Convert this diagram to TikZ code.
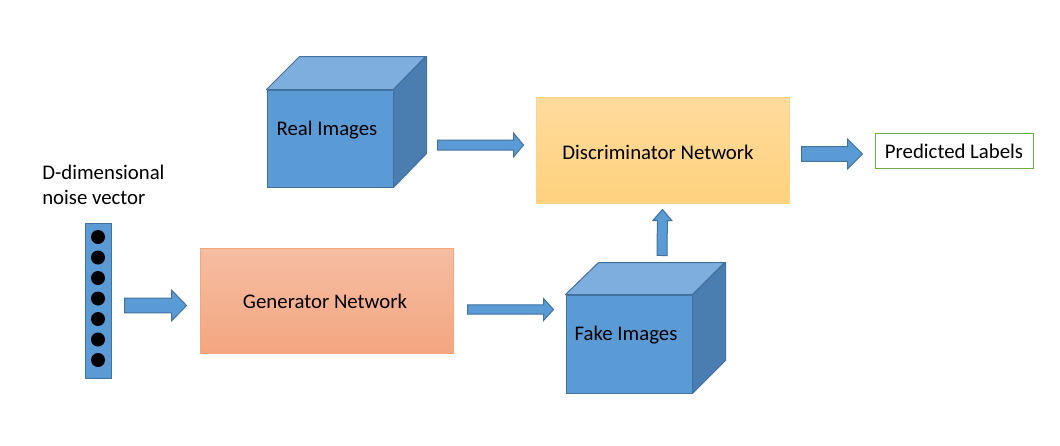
\documentclass[tikz,border=0pt]{standalone}
\usepackage{fontspec}
\setmainfont{Carlito}
\usetikzlibrary{calc,fit}
\definecolor{bfill}{HTML}{5B9BD5}
\definecolor{bline}{HTML}{41719C}
\definecolor{btop}{HTML}{7DAEDD}
\definecolor{bside}{HTML}{4A7EB1}
\definecolor{dtop}{HTML}{FFDB9C}
\definecolor{dbot}{HTML}{FED17D}
\definecolor{dline}{HTML}{FBD28C}
\definecolor{gtop}{HTML}{F5BDA3}
\definecolor{gbot}{HTML}{F4A680}
\definecolor{gline}{HTML}{F4A57C}
\definecolor{pline}{HTML}{70AD47}
\tikzset{
  txt/.style={font=\fontsize{15.6}{18.75}\selectfont, inner sep=0pt, text=black},
  boxbase/.style={inner sep=0pt, line width=0.75pt},
  cubefront/.style={boxbase, draw=bline, fill=bfill},
  cubetop/.style={draw=bline, fill=btop, line width=0.75pt, line join=round},
  cubeside/.style={draw=bline, fill=bside, line width=0.75pt, line join=round},
  discbox/.style={boxbase, draw=dline, top color=dtop, bottom color=dbot},
  genbox/.style={boxbase, draw=gline, top color=gtop, bottom color=gbot},
  predbox/.style={boxbase, draw=pline, fill=white},
  vecbox/.style={boxbase, draw=bline, fill=bfill},
  dot/.style={circle, fill=black, inner sep=0pt, minimum size=10.5pt},
  barrow/.style={draw=bline, fill=bfill, line width=0.75pt, line join=miter},
}
% #1 start, #2 tip, #3 shaft half width, #4 head half width, #5 head length
\newcommand\blockarrow[5]{%
  \coordinate (bah) at ($(#2)!#5!(#1)$);
  \draw[barrow] ($(#1)!#3!90:(#2)$) -- ($(bah)!#3!90:(#2)$) -- ($(bah)!#4!90:(#2)$)
    -- (#2) -- ($(bah)!#4!-90:(#2)$) -- ($(bah)!#3!-90:(#2)$) -- ($(#1)!#3!-90:(#2)$) -- cycle;
}
\begin{document}
\begin{tikzpicture}[x=0.75pt,y=-0.75pt]
\useasboundingbox (0,0) rectangle (1060,446);

% noise vector
\node[txt, anchor=west, align=left] (noisetxt) at (42,184.5) {D-dimensional\\noise vector};
\node[vecbox, fit={(85,223) (111,378)}] (noise) {};
\foreach \i in {0,...,6} {
  \node[dot] (n\i) at (98,{237+\i*20.5}) {};
}

% real images cube
\node[cubefront, fit={(267,90) (393,187)}] (real) {};
\draw[cubetop] (real.north west) -- ++(33,-33) -- ++(126,0) -- (real.north east) -- cycle;
\draw[cubeside] (real.north east) -- ++(33,-33) -- ++(0,97) -- (real.south east) -- cycle;
\node[txt] (realtxt) at (327,130) {Real Images};

% fake images cube
\node[cubefront, fit={(566,295) (692,393)}] (fake) {};
\draw[cubetop] (fake.north west) -- ++(33,-32) -- ++(126,0) -- (fake.north east) -- cycle;
\draw[cubeside] (fake.north east) -- ++(33,-32) -- ++(0,98) -- (fake.south east) -- cycle;
\node[txt] (faketxt) at (626,335) {Fake Images};

% discriminator
\node[discbox, fit={(536,97) (789,203)}] (disc) {};
\node[txt] (disctxt) at (658,152) {Discriminator Network};

% generator
\node[genbox, fit={(200,248) (453,353)}] (gen) {};
\node[txt] (gentxt) at (325,301) {Generator Network};

% predicted labels
\node[predbox, fit={(875,133) (1033,168)}] (pred) {};
\node[txt] (predtxt) at (954,151) {Predicted Labels};

% arrows
\coordinate (a1s) at ($(noise.east)+(13,5)$);
\coordinate (a1t) at ($(gen.west)+(-13,5)$);
\blockarrow{a1s}{a1t}{5.6pt}{11.6pt}{11.25pt}

\coordinate (a2s) at ($(gen.east)+(14,9)$);
\coordinate (a2t) at ($(fake.west)+(-12,-34.5)$);
\blockarrow{a2s}{a2t}{3.4pt}{8.25pt}{7.5pt}

\coordinate (a3s) at ($(real.east)+(44,6.5)$);
\coordinate (a3t) at ($(disc.west)+(-12,-5)$);
\blockarrow{a3s}{a3t}{3.75pt}{9pt}{7.5pt}

\coordinate (a4s) at ($(disc.east)+(12,4)$);
\coordinate (a4t) at ($(pred.west)+(-12,3.5)$);
\blockarrow{a4s}{a4t}{5.6pt}{11.25pt}{11.25pt}

\coordinate (a5s) at ($(fake.north)+(33,-39)$);
\coordinate (a5t) at ($(disc.south)+(0,6)$);
\blockarrow{a5s}{a5t}{3.75pt}{7.1pt}{8.25pt}
\end{tikzpicture}
\end{document}
